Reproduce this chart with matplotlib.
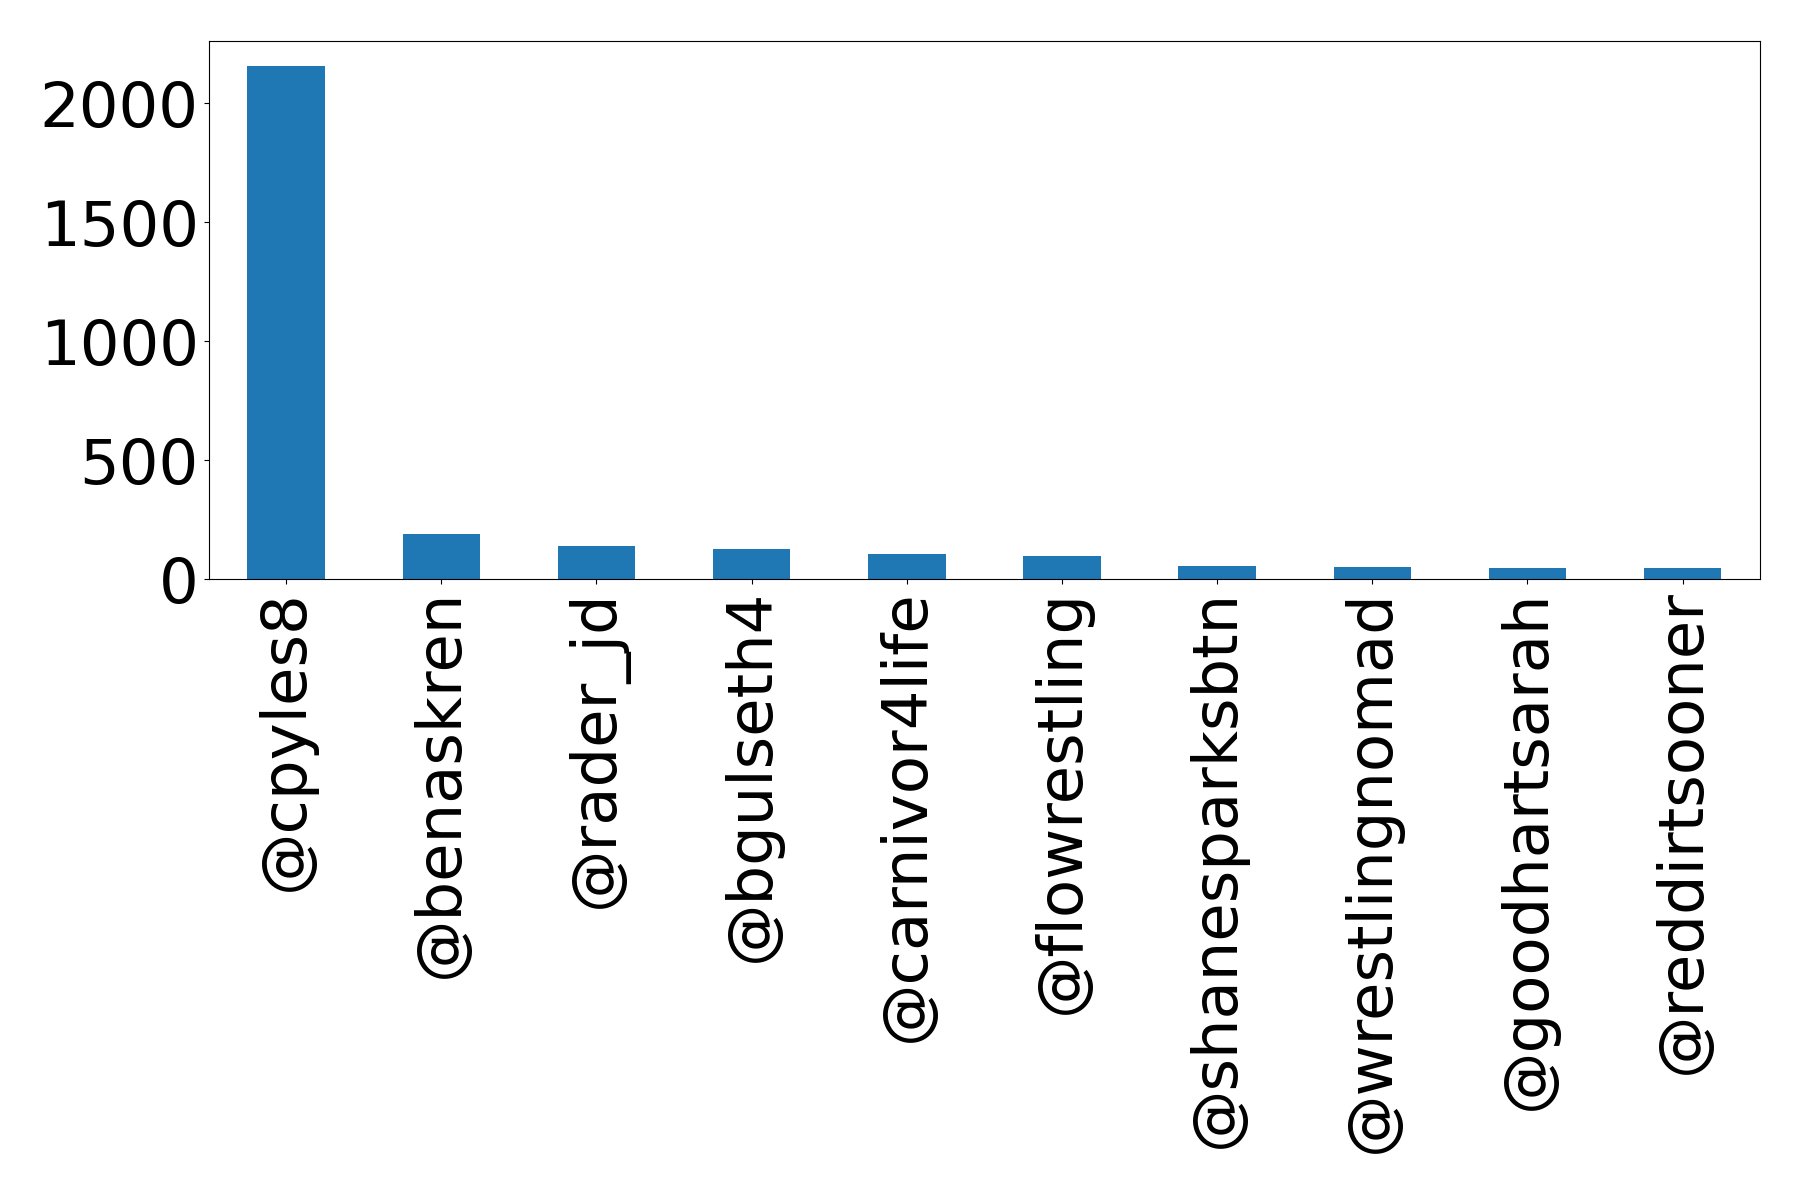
import matplotlib
matplotlib.use('Agg')
import matplotlib.pyplot as plt

# Top tweeters and their tweet counts
users = ['@cpyles8', '@benaskren', '@rader_jd', '@bgulseth4', '@carnivor4life',
         '@flowrestling', '@shanesparksbtn', '@wrestlingnomad', '@goodhartsarah',
         '@reddirtsooner']
counts = [2155, 190, 140, 128, 108, 98, 58, 50, 49, 48]
yticks = [0, 500, 1000, 1500, 2000]

fig = plt.figure(figsize=(17.98, 11.92), dpi=100)
ax = fig.add_axes([0.116, 0.514, 0.863, 0.452])

x = range(len(users))
ax.bar(x, counts, width=0.5, color='#1f77b4')
ax.set_xticks(list(x))
ax.set_xticklabels(users, rotation=90)
ax.set_yticks(yticks)
ax.set_xlim(-0.5, len(users) - 0.5)
ax.tick_params(axis='both', labelsize=45)

fig.savefig('out.png', dpi=100)
